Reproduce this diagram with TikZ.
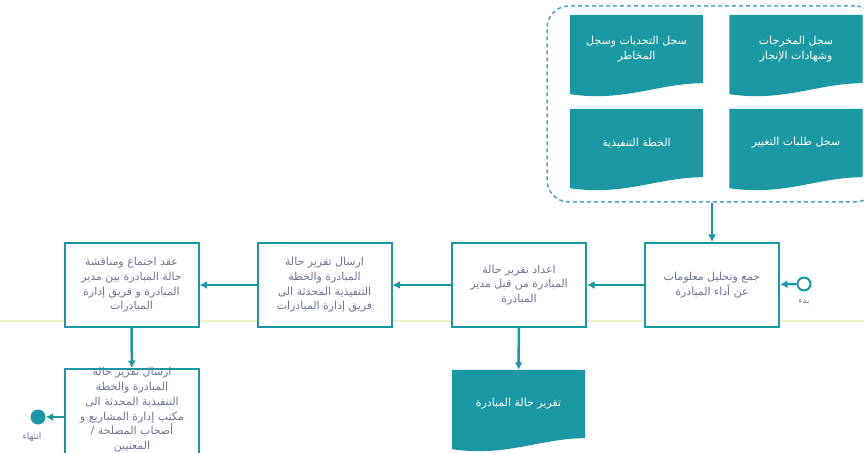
\documentclass[tikz,border=0pt]{standalone}
\usepackage{fontspec}
\newfontfamily\arabicfont[Script=Arabic]{DejaVu Sans}
\TeXXeTstate=1
\usetikzlibrary{calc,arrows.meta,backgrounds}
\definecolor{teal1}{HTML}{1B98A1}
\definecolor{boxtext}{HTML}{6E7491}
\definecolor{laneline}{HTML}{F4EFC6}
\definecolor{groupline}{HTML}{56A5C2}
\newcommand{\arl}[1]{\beginR #1\endR}
\newcommand{\docwave}[1]{%
  \fill[teal1] (#1.north west) -- (#1.north east) -- (#1.south east)
    .. controls ($(#1.south east)+(-45,0)$) and ($(#1.south west)+(55,19)$) .. ($(#1.south west)+(0,11)$) -- cycle;}

\begin{document}
\begin{tikzpicture}[x=1bp,y=-1bp,
    procbox/.style={draw=teal1,line width=2bp,fill=white,minimum width=134bp,minimum height=84bp,inner sep=0pt},
    boxtxt/.style={font=\arabicfont\fontsize{11}{14.8}\selectfont,text=boxtext,align=center},
    docnode/.style={minimum width=133bp,minimum height=68bp,inner sep=0pt,
      font=\arabicfont\fontsize{11}{14.8}\selectfont,text=white,align=center},
    flow/.style={draw=teal1,line width=2.5bp,-{Latex[length=7.5bp,width=8bp]}}]
            \useasboundingbox (0,0) rectangle (864,453);

            % documents
            \node[docnode] (d_1) at (796,49) {\arl{سجل المخرجات}\\\arl{وشهادات الإنجاز}};
            \node[docnode] (d_2) at (636.5,49) {\arl{سجل التحديات وسجل}\\\arl{المخاطر}};
            \node[docnode] (d_3) at (796,143) {\arl{سجل طلبات التغيير}};
            \node[docnode] (d_4) at (636.5,143) {\arl{الخطة التنفيذية}};
            \node[docnode] (d_5) at (518.5,404) {\arl{تقرير حالة المبادرة}};
            \node[draw=groupline,line width=1.5bp,dash pattern=on 4bp off 3bp,rounded corners=22bp,
              minimum width=330bp,minimum height=196bp] (g) at (712,104) {};

            % process
            \node[procbox,boxtxt] (p_1) at (712,285) {\arl{جمع وتحليل معلومات}\\\arl{عن أداء المبادرة}};
            \node[procbox,boxtxt] (p_2) at (519,285) {\arl{اعداد تقرير حالة}\\\arl{المبادرة من قبل مدير}\\\arl{المبادرة}};
            \node[procbox,boxtxt] (p_3) at (324.5,285) {\arl{ارسال تقرير حالة}\\\arl{المبادرة والخطة}\\\arl{التنفيذية المحدثة الى}\\\arl{فريق إدارة المبادرات}};
            \node[procbox,boxtxt] (p_4) at (131.5,285) {\arl{عقد اجتماع ومناقشة}\\\arl{حالة المبادرة بين مدير}\\\arl{المبادرة و فريق إدارة}\\\arl{المبادرات}};
            \node[procbox,minimum height=106bp] (p_5) at (132,422) {};
            \node[boxtxt] (l_5) at (132,410) {\arl{ارسال تقرير حالة}\\\arl{المبادرة والخطة}\\\arl{التنفيذية المحدثة الى}\\\arl{مكتب إدارة المشاريع و}\\\arl{أصحاب المصلحة /}\\\arl{المعنيين}};

            \node[circle,draw=teal1,line width=2bp,fill=white,minimum size=13bp,inner sep=0pt] (s_0) at (804,284) {};
            \node[font=\arabicfont\fontsize{8.5}{10}\selectfont,text=boxtext] (s_l) at (804,302) {\arl{بدء}};
            \node[circle,fill=teal1,minimum size=15bp,inner sep=0pt] (t_0) at (38,417) {};
            \node[font=\arabicfont\fontsize{9}{10}\selectfont,text=boxtext] (t_l) at (32,437) {\arl{انتهاء}};

            \begin{pgfonlayer}{background}
              \draw[laneline,line width=1.5bp] (0,321) -- (864,321);
              \foreach \d in {d_1,d_2,d_3,d_4,d_5} {\docwave{\d}}
            \end{pgfonlayer}

            \draw[flow] (s_0) -- (p_1);
            \draw[flow] (p_1) -- (p_2);
            \draw[flow] (p_2) -- (p_3);
            \draw[flow] (p_3) -- (p_4);
            \draw[flow] (p_4) -- (p_5);
            \draw[flow] (t_0 -| p_5.west) -- (t_0);
            \draw[flow] (p_2) -- (d_5);
            \draw[flow] (g) -- (p_1);
\end{tikzpicture}
\end{document}
